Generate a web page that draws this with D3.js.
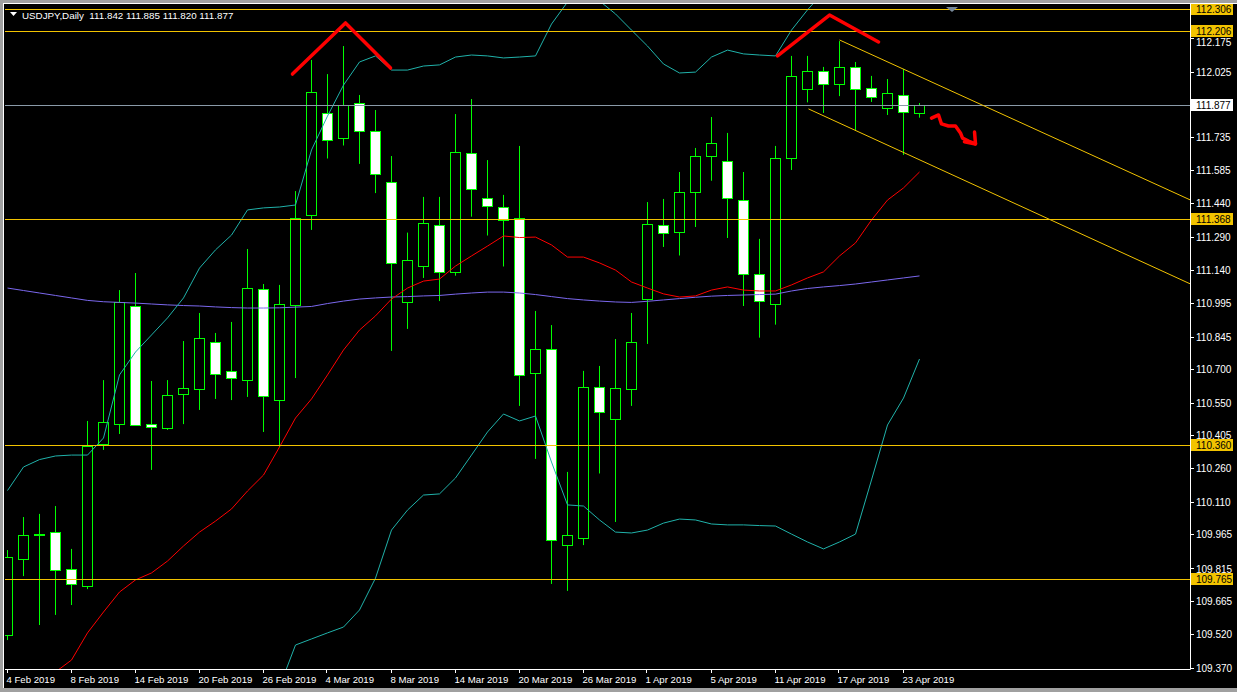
<!DOCTYPE html>
<html><head><meta charset="utf-8">
<script src="https://cdn.jsdelivr.net/npm/d3@7"></script>
<style>html,body{margin:0;padding:0;background:#000;overflow:hidden}</style>
</head><body><svg id="c" width="1237" height="692"></svg>
<script>
// ---------- DATA ----------
const dates = [
 "2019-02-04","2019-02-05","2019-02-06","2019-02-07","2019-02-08","2019-02-11","2019-02-12","2019-02-13","2019-02-14","2019-02-15",
 "2019-02-18","2019-02-19","2019-02-20","2019-02-21","2019-02-22","2019-02-25","2019-02-26","2019-02-27","2019-02-28","2019-03-01",
 "2019-03-04","2019-03-05","2019-03-06","2019-03-07","2019-03-08","2019-03-11","2019-03-12","2019-03-13","2019-03-14","2019-03-15",
 "2019-03-18","2019-03-19","2019-03-20","2019-03-21","2019-03-22","2019-03-25","2019-03-26","2019-03-27","2019-03-28","2019-03-29",
 "2019-04-01","2019-04-02","2019-04-03","2019-04-04","2019-04-05","2019-04-08","2019-04-09","2019-04-10","2019-04-11","2019-04-12",
 "2019-04-15","2019-04-16","2019-04-17","2019-04-18","2019-04-19","2019-04-22","2019-04-23","2019-04-24"];
const open = [
 109.516,109.854,109.963,109.974,109.810,109.734,110.366,110.455,110.981,110.455,
 110.438,110.589,110.611,110.821,110.692,110.651,111.057,110.562,110.986,111.386,
 111.839,111.729,111.885,111.761,111.533,110.997,111.157,111.342,111.134,111.663,
 111.460,111.422,111.375,110.683,110.790,109.916,109.948,110.619,110.476,110.610,
 111.014,111.342,111.311,111.489,111.647,111.627,111.451,111.124,110.988,111.640,
 111.946,112.028,111.970,112.046,111.952,111.863,111.921,111.842];
const high = [
 109.894,110.041,110.055,110.090,109.899,110.469,110.651,111.052,111.128,110.647,
 110.651,110.825,110.950,110.861,110.910,111.235,111.079,111.075,111.493,112.077,
 112.014,112.139,111.921,111.854,111.649,111.308,111.467,111.467,111.836,111.903,
 111.631,111.476,111.694,110.959,110.896,110.242,110.692,110.714,110.834,110.950,
 111.444,111.458,111.578,111.685,111.823,111.752,111.578,111.280,111.694,112.095,
 112.095,112.046,112.161,112.068,112.006,111.992,112.037,111.885];
const low = [
 109.493,109.778,109.560,109.605,109.649,109.720,110.340,110.411,110.447,110.251,
 110.429,110.455,110.518,110.567,110.562,110.576,110.420,110.353,110.660,111.320,
 111.638,111.696,111.614,111.484,110.781,110.879,111.106,111.003,111.116,111.379,
 111.295,111.157,110.536,110.300,109.743,109.712,109.916,110.235,110.019,110.536,
 110.812,111.244,111.206,111.333,111.539,111.284,110.981,110.840,110.898,111.587,
 111.888,111.841,111.916,111.761,111.890,111.832,111.654,111.820];
const close = [
 109.863,109.961,109.966,109.805,109.743,110.357,110.464,110.999,110.451,110.442,
 110.585,110.616,110.839,110.678,110.660,111.061,110.580,110.990,111.373,111.934,
 111.720,111.876,111.761,111.569,111.173,111.186,111.351,111.134,111.669,111.504,
 111.427,111.364,110.674,110.790,109.939,109.961,110.619,110.509,110.616,110.821,
 111.346,111.308,111.489,111.649,111.707,111.462,111.124,111.003,111.640,112.006,
 112.030,111.970,112.046,111.946,111.912,111.930,111.845,111.877];
const bbUpper = [
 110.159,110.264,110.297,110.313,110.317,110.317,110.393,110.674,110.776,110.852,
 110.928,111.017,111.150,111.231,111.297,111.409,111.418,111.422,111.431,111.676,
 111.827,111.965,112.068,112.095,112.032,112.032,112.050,112.055,112.090,112.099,
 112.095,112.086,112.090,112.095,112.237,112.335,112.353,112.340,112.282,112.210,
 112.139,112.059,112.019,112.023,112.090,112.121,112.104,112.099,112.095,112.210,
 112.300,112.380,112.478,112.545,112.487,112.478,112.451,112.411];
const bbMiddle = [
 109.137,109.204,109.271,109.351,109.404,109.525,109.618,109.707,109.761,109.792,
 109.845,109.912,109.974,110.023,110.077,110.157,110.228,110.353,110.482,110.567,
 110.674,110.785,110.874,110.937,111.012,111.061,111.092,111.101,111.159,111.204,
 111.248,111.293,111.286,111.288,111.253,111.199,111.199,111.173,111.141,111.088,
 111.061,111.035,111.021,111.026,111.052,111.066,111.052,111.048,111.048,111.075,
 111.106,111.133,111.204,111.262,111.364,111.453,111.507,111.578];
const bbLower = [
 108.113,108.144,108.242,108.389,108.491,108.732,108.843,108.741,108.745,108.732,
 108.763,108.807,108.798,108.816,108.856,108.905,109.039,109.284,109.471,109.498,
 109.525,109.551,109.627,109.769,109.983,110.072,110.139,110.144,110.215,110.317,
 110.420,110.500,110.469,110.491,110.286,110.095,110.090,110.028,109.974,109.970,
 109.983,110.014,110.032,110.028,110.010,110.006,110.006,110.003,110.001,109.965,
 109.930,109.899,109.930,109.965,110.206,110.451,110.571,110.745];
const maSlow = [
 111.061,111.050,111.039,111.028,111.017,111.006,111.000,110.997,110.994,110.990,
 110.986,110.983,110.981,110.977,110.974,110.972,110.972,110.973,110.976,110.979,
 110.992,111.003,111.012,111.017,111.021,111.023,111.026,111.028,111.034,111.039,
 111.043,111.043,111.039,111.032,111.023,111.014,111.008,111.003,110.999,110.997,
 111.002,111.008,111.014,111.020,111.025,111.028,111.030,111.032,111.034,111.048,
 111.059,111.066,111.072,111.079,111.088,111.097,111.106,111.115];
const priceTicks = [112.175,112.025,111.735,111.585,111.440,111.290,111.140,110.995,110.845,110.700,
 110.550,110.405,110.260,110.110,109.965,109.815,109.665,109.520,109.370];
const levels = [112.306,112.206,111.368,110.360,109.765];
const bid = 111.877;
const title = "USDJPY,Daily  111.842 111.885 111.820 111.877";
const channelUpperBars = [52, 73.94], channelUpperPrices = [112.166, 111.453];
const channelLowerBars = [50.06, 73.94], channelLowerPrices = [111.859, 111.079];
const peak1Bars = [17.81, 21.125, 23.94], peak1Prices = [112.014, 112.242, 112.041];
const peak2Bars = [48.125, 51.375, 54.44], peak2Prices = [112.095, 112.277, 112.157];
const arrowBars = [57.75, 58.19, 58.375, 58.81, 59.25, 59.56, 59.69, 60.06, 60.5];
const arrowPrices = [111.818, 111.832, 111.792, 111.783, 111.783, 111.752, 111.729, 111.716, 111.703];
const headBars = [60.44, 60.5, 59.81], headPrices = [111.756, 111.703, 111.712];

// ---------- CHART ----------
const svg = d3.select("#c");
const W = 1237, H = 692;
const plotL = 5, plotR = 1190, plotT = 4, plotB = 669;
const x = d3.scaleLinear().domain([0, 57]).range([7.5, 919.5]);
const y = d3.scaleLinear().domain([109.765, 112.206]).range([579, 31]);
const FONT = "'Liberation Sans', Arial, sans-serif";
const FS = "10px";
const GOLD = "#F2C300", LIME = "#00FF00";

svg.append("rect").attr("width", W).attr("height", H).attr("fill", "#000");
svg.append("rect").attr("x",0).attr("y",0).attr("width",W).attr("height",3).attr("fill","#A0A0A0");
svg.append("rect").attr("x",0).attr("y",0).attr("width",3).attr("height",H).attr("fill","#A0A0A0");
svg.append("rect").attr("x",0).attr("y",688).attr("width",W).attr("height",4).attr("fill","#A0A0A0");
svg.append("line").attr("x1",3).attr("x2",W).attr("y1",3.5).attr("y2",3.5).attr("stroke","#fff");
svg.append("line").attr("x1",3.5).attr("x2",3.5).attr("y1",3).attr("y2",688).attr("stroke","#fff");

const defs = svg.append("defs");
defs.append("clipPath").attr("id","clip").append("rect")
  .attr("x", plotL).attr("y", plotT).attr("width", plotR - plotL).attr("height", plotB - plotT);
defs.append("clipPath").attr("id","clipTop").append("rect").attr("x",0).attr("y",4).attr("width",W).attr("height",H);
const g = svg.append("g").attr("clip-path","url(#clip)");

const bars = d3.range(dates.length).map(i => ({i, o: open[i], h: high[i], l: low[i], c: close[i]}));
g.selectAll("line.wick").data(bars).join("line").attr("class","wick")
  .attr("x1", d => x(d.i)).attr("x2", d => x(d.i))
  .attr("y1", d => y(d.h)).attr("y2", d => y(d.l))
  .attr("stroke", LIME).attr("stroke-width", 1);
g.selectAll("rect.body").data(bars).join("rect").attr("class","body")
  .attr("x", d => x(d.i) - 5).attr("width", 10)
  .attr("y", d => Math.round(y(Math.max(d.o, d.c))) + 0.5)
  .attr("height", d => Math.max(0, Math.round(y(Math.min(d.o, d.c))) - Math.round(y(Math.max(d.o, d.c)))))
  .attr("fill", d => d.c >= d.o ? "#000" : "#FFFFFF")
  .attr("stroke", LIME).attr("stroke-width", 1).attr("shape-rendering","crispEdges");

const line = d3.line().x((d, i) => x(i)).y(d => y(d));
g.append("path").datum(maSlow).attr("d", line).attr("fill","none").attr("stroke","#7B68EE").attr("stroke-width",1);
g.append("path").datum(bbMiddle).attr("d", line).attr("fill","none").attr("stroke","#FF0000").attr("stroke-width",1);
g.append("path").datum(bbUpper).attr("d", line).attr("fill","none").attr("stroke","#20B2AA").attr("stroke-width",1);
g.append("path").datum(bbLower).attr("d", line).attr("fill","none").attr("stroke","#20B2AA").attr("stroke-width",1);

g.selectAll("line.lvl").data(levels).join("line").attr("class","lvl")
  .attr("x1", plotL).attr("x2", plotR)
  .attr("y1", d => Math.round(y(d)) + 0.5).attr("y2", d => Math.round(y(d)) + 0.5)
  .attr("stroke", GOLD).attr("stroke-width", 1);
g.append("line").attr("x1", plotL).attr("x2", plotR)
  .attr("y1", Math.round(y(bid)) + 0.5).attr("y2", Math.round(y(bid)) + 0.5)
  .attr("stroke", "#8A9AA8").attr("stroke-width", 1);

const pl = d3.line().x(d => x(d[0])).y(d => y(d[1]));
g.append("path").attr("d", pl(d3.zip(channelUpperBars, channelUpperPrices))).attr("fill","none").attr("stroke",GOLD).attr("stroke-width",1);
g.append("path").attr("d", pl(d3.zip(channelLowerBars, channelLowerPrices))).attr("fill","none").attr("stroke",GOLD).attr("stroke-width",1);

[[peak1Bars, peak1Prices], [peak2Bars, peak2Prices], [arrowBars, arrowPrices], [headBars, headPrices]].forEach(([b, p]) => {
  g.append("path").attr("d", pl(d3.zip(b, p))).attr("fill","none")
   .attr("stroke","#FF0000").attr("stroke-width",3.5).attr("stroke-linecap","round").attr("stroke-linejoin","round");
});

svg.append("line").attr("x1", plotR + 0.5).attr("x2", plotR + 0.5).attr("y1", 3).attr("y2", plotB + 0.5).attr("stroke","#fff");
svg.append("line").attr("x1", plotL).attr("x2", plotR + 0.5).attr("y1", plotB + 0.5).attr("y2", plotB + 0.5).attr("stroke","#fff");

const boxYs = levels.concat([bid]).map(v => Math.round(y(v)));
const ra = svg.append("g");
priceTicks.forEach(v => {
  const yy = Math.round(y(v)) + 0.5;
  let ty = yy;
  boxYs.forEach(b => {
    if (Math.abs(ty - b) < 11) ty = ty > b ? b + 11 : b - 10;
  });
  ra.append("line").attr("x1", plotR).attr("x2", plotR + 4).attr("y1", yy).attr("y2", yy).attr("stroke","#fff");
  ra.append("text").attr("x", plotR + 6).attr("y", ty).attr("dy","0.35em")
    .attr("fill","#FFFFFF").attr("font-family",FONT).attr("font-size",FS).text(v.toFixed(3));
});
const lbl = svg.append("g").attr("clip-path","url(#clipTop)");
levels.forEach(v => {
  const yy = Math.round(y(v));
  lbl.append("rect").attr("x", plotR + 1).attr("y", yy - 6).attr("width", 42).attr("height", 12).attr("fill", GOLD);
  lbl.append("text").attr("x", plotR + 6).attr("y", yy + 0.5).attr("dy","0.35em")
    .attr("fill","#000").attr("font-family",FONT).attr("font-size",FS).text(v.toFixed(3));
});
{
  const yy = Math.round(y(bid));
  lbl.append("rect").attr("x", plotR + 1).attr("y", yy - 6).attr("width", 42).attr("height", 12).attr("fill", "#fff");
  lbl.append("text").attr("x", plotR + 6).attr("y", yy + 0.5).attr("dy","0.35em")
    .attr("fill","#000").attr("font-family",FONT).attr("font-size",FS).text(bid.toFixed(3));
}

const parse = d3.timeParse("%Y-%m-%d"), fmt = d3.timeFormat("%-d %b %Y");
const ba = svg.append("g");
dates.forEach((d, i) => {
  if (i % 4 !== 0) return;
  const xx = Math.round(x(i)) - 0.5;
  ba.append("line").attr("x1", xx).attr("x2", xx).attr("y1", plotB).attr("y2", plotB + 4).attr("stroke","#fff");
  ba.append("text").attr("x", xx - 1).attr("y", 683).attr("fill","#fff")
    .attr("font-family",FONT).attr("font-size","9.6px").text(fmt(parse(d)));
});

svg.append("path").attr("d","M10,12 L17,12 L13.5,16 Z").attr("fill","#fff");
svg.append("text").attr("x", 22).attr("y", 18.5).attr("fill","#fff").attr("font-family",FONT)
  .attr("font-size","9.8px").attr("xml:space","preserve").style("white-space","pre").text(title);
svg.append("path").attr("d","M946,7 L958,7 L952,12 Z").attr("fill","#778899");
</script></body></html>
